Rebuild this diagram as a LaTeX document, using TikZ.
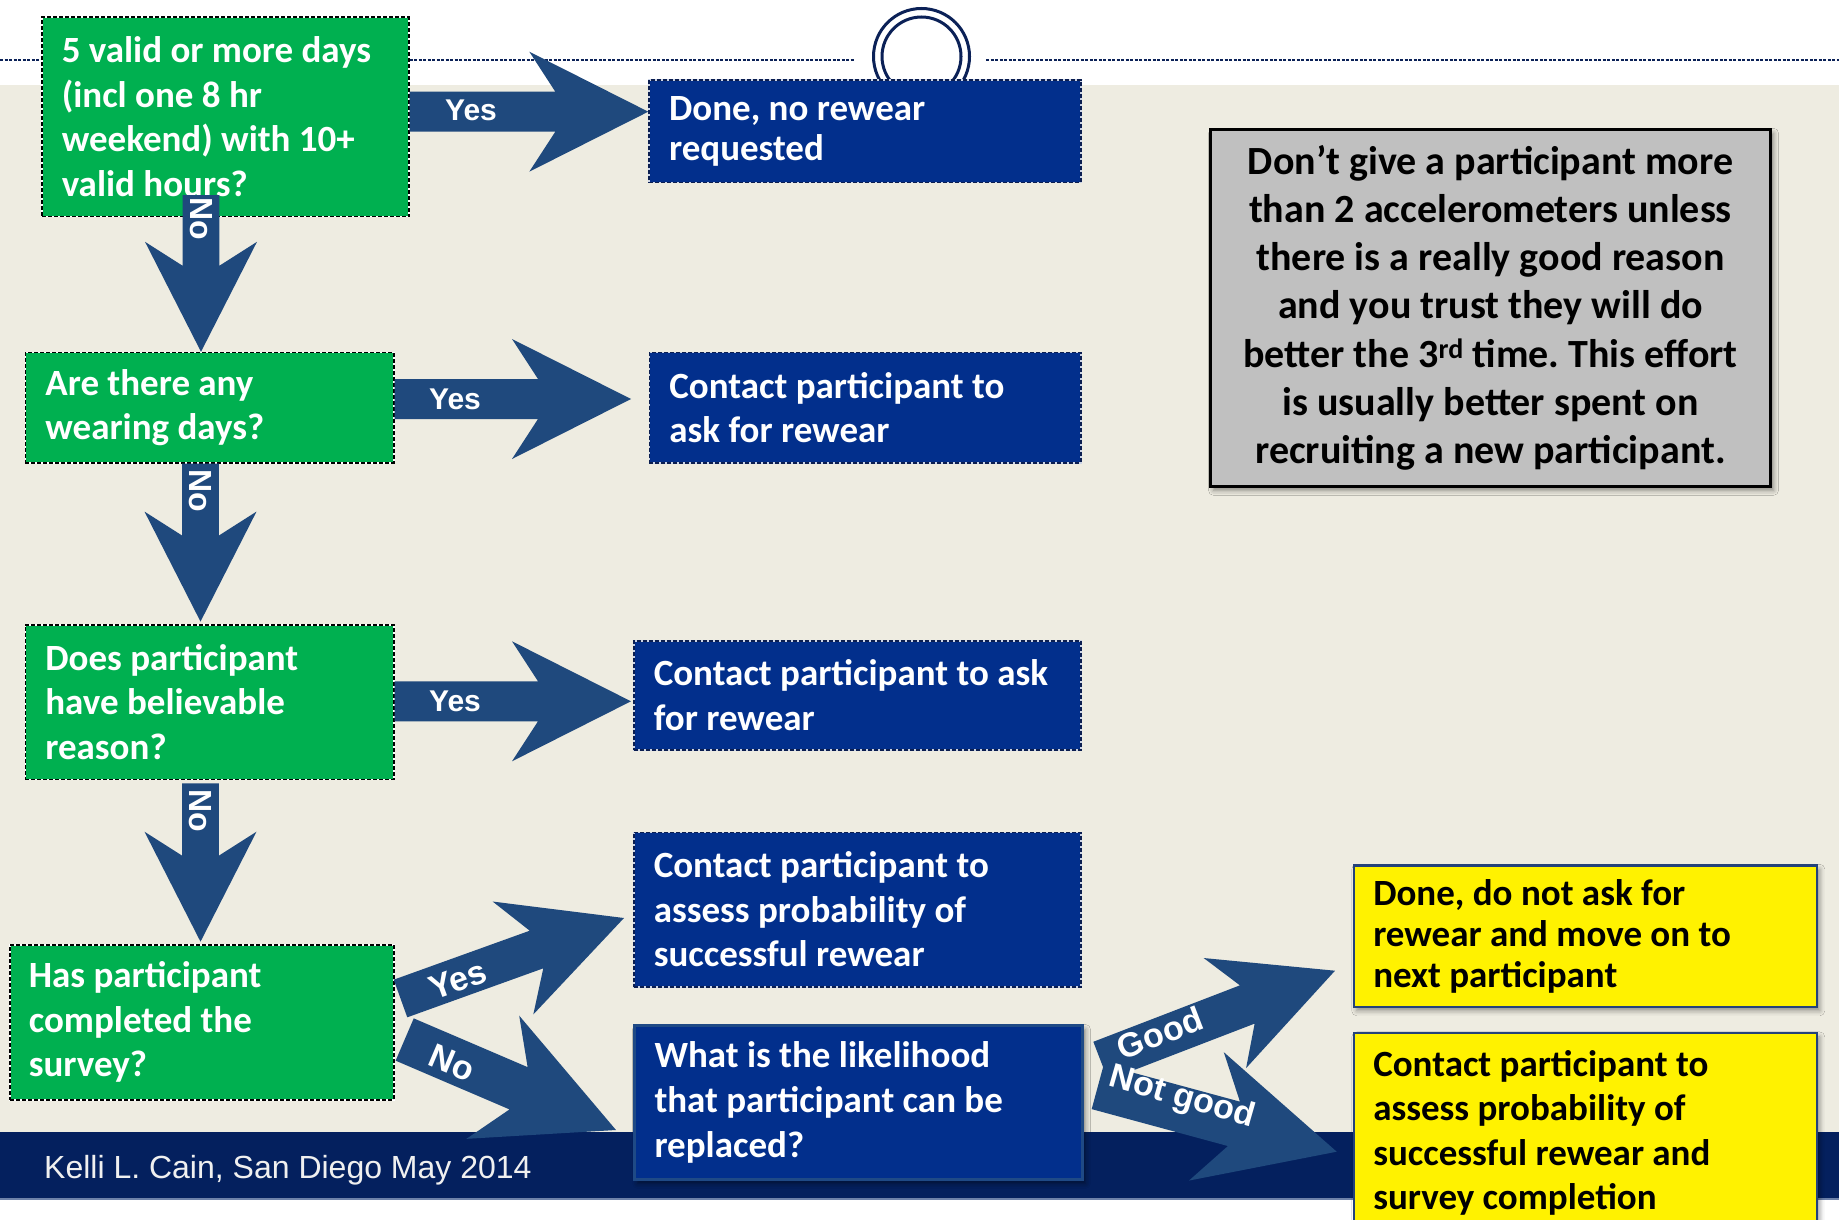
\documentclass[tikz,border=0pt]{standalone}
\usepackage{fontspec}
\setmainfont{Carlito}
\newfontfamily\labelfont{Liberation Sans}
\usetikzlibrary{calc,shadows.blur}

\definecolor{pagebeige}{HTML}{EEECE1}
\definecolor{barblue}{HTML}{04205E}
\definecolor{barline}{HTML}{6E82AA}
\definecolor{ringblue}{HTML}{0B2157}
\definecolor{boxgreen}{HTML}{00B050}
\definecolor{boxblue}{HTML}{022F8C}
\definecolor{dashnavy}{HTML}{0B1E50}
\definecolor{arrowfill}{HTML}{1F497D}
\definecolor{edgeblue}{HTML}{1F4A86}
\definecolor{notegray}{HTML}{C0C0C0}
\definecolor{yellowedge}{HTML}{24427A}

% Block arrow from tail (#1) to tip (#2):
% #3 half shaft width, #4 tip-to-barb length, #5 tip-to-notch length, #6 half head width
\newcommand\blockarrow[6]{%
  \coordinate (ba-w) at ($(#2)!#4!(#1)$);
  \coordinate (ba-j) at ($(#2)!#5!(#1)$);
  \fill[arrowfill] ($(#1)!#3!90:(#2)$) -- ($(ba-j)!#3!90:(#2)$) -- ($(ba-w)!#6!90:(#2)$) -- (#2)
    -- ($(ba-w)!#6!-90:(#2)$) -- ($(ba-j)!#3!-90:(#2)$) -- ($(#1)!#3!-90:(#2)$) -- cycle;
}

\frenchspacing
\begin{document}
\begin{tikzpicture}[x=1pt,y=-1pt,
  boxtext/.style={rectangle, anchor=north west, align=flush left, inner ysep=0pt, inner xsep=20pt,
    font=\fontsize{37}{44.6}\selectfont\bfseries},
  greenbox/.style={boxtext, fill=boxgreen, text=white, draw=white, line width=1.5pt,
    postaction={draw=black, line width=1.5pt, dash pattern=on 4pt off 2pt}},
  bluebox/.style={boxtext, fill=boxblue, text=white, draw=white!80!boxblue, line width=1.5pt,
    postaction={draw=dashnavy, line width=1.5pt, dash pattern=on 4pt off 2pt}},
  questionbox/.style={boxtext, fill=boxblue, text=white, draw=edgeblue, line width=3pt,
    blur shadow={shadow xshift=3pt, shadow yshift=-4pt, shadow blur radius=5pt, shadow opacity=45}},
  notebox/.style={boxtext, align=flush center, fill=notegray, text=black, draw=black, line width=3pt,
    font=\fontsize{40}{48.1}\selectfont\bfseries,
    blur shadow={shadow xshift=3pt, shadow yshift=-4pt, shadow blur radius=5pt, shadow opacity=45}},
  endbox/.style={boxtext, fill=yellow, text=black, draw=yellowedge, line width=2.5pt,
    blur shadow={shadow xshift=3pt, shadow yshift=-4pt, shadow blur radius=5pt, shadow opacity=40}},
  rlabel/.style={text=white, inner sep=0pt, font=\labelfont\bfseries\fontsize{30}{36}\selectfont},
  dlabel/.style={text=white, inner sep=0pt, font=\labelfont\bfseries\fontsize{32}{38}\selectfont},
  slabel/.style={text=white, inner sep=0pt, font=\labelfont\bfseries\fontsize{34}{40}\selectfont},
  topdash/.style={ringblue, line width=2.2pt, dash pattern=on 3pt off 1.5pt},
  ring/.style={ringblue, line width=3pt}
]
\clip (0,0) rectangle (1839,1220);

% page background, footer band and top rule
\fill[white] (0,0) rectangle (1839,1220);
\fill[pagebeige] (0,85) rectangle (1839,1132);
\fill[barblue] (0,1132) rectangle (1839,1198);
\fill[barline] (0,1198) rectangle (1839,1200);
\draw[topdash] (0,60) -- (854,60);
\draw[topdash] (986,60) -- (1839,60);
\draw[ring, fill=white] (921.5,56.5) circle[radius=48];
\draw[ring] (921.5,56.5) circle[radius=39.5];

% decision boxes
\node[greenbox, text width=327pt, minimum height=199.4pt] (g1) at (41,16.4)
  {5 valid or more days\\(incl one 8 hr\\weekend) with 10+\\valid hours?};
\node[greenbox, text width=328.4pt, minimum height=110.2pt] (g2) at (24.6,351.8)
  {Are there any\\wearing days?};
\node[greenbox, text width=328.4pt, minimum height=154.7pt] (g3) at (24.6,624)
  {Does participant\\have believable\\reason?};
\node[greenbox, inner xsep=18.6pt, text width=346.4pt, minimum height=155pt] (g4) at (9.4,944)
  {Has participant\\completed the\\survey?};

% outcome boxes
\node[bluebox, text width=391.7pt, minimum height=102.5pt, font=\fontsize{37}{40}\selectfont\bfseries] (b1) at (648.3,79.3)
  {Done, no rewear\\requested};
\node[bluebox, text width=391.4pt, minimum height=110.2pt] (b2) at (648.6,351.8)
  {Contact participant to\\ask for rewear};
\node[bluebox, text width=407pt, minimum height=109pt] (b3) at (633,640)
  {Contact participant to ask\\for rewear};
\node[bluebox, text width=407pt, minimum height=154.5pt] (b4) at (633,831.5)
  {Contact participant to\\assess probability of\\successful rewear};
\node[questionbox, text width=408pt, minimum height=154pt] (b5) at (633,1024)
  {What is the likelihood\\that participant can be\\replaced?};

% side note
\node[notebox, inner xsep=15pt, text width=530pt, minimum height=357pt] (note) at (1209,127.8)
  {Don’t give a participant more\\than 2 accelerometers unless\\there is a really good reason\\and you trust they will do\\better the 3\textsuperscript{rd} time. This effort\\is usually better spent on\\recruiting a new participant.};

% final outcomes
\node[endbox, inner xsep=19.5pt, text width=424pt, minimum height=141.5pt, font=\fontsize{37}{41}\selectfont\bfseries] (y1) at (1352.5,864)
  {Done, do not ask for\\rewear and move on to\\next participant};
\node[endbox, inner xsep=19.5pt, text width=424pt, minimum height=200pt] (y2) at (1352.5,1031.7)
  {Contact participant to\\assess probability of\\successful rewear and\\survey completion};

% arrow end points
\coordinate (r1s) at (g1.east |- 0,111.7);
\coordinate (r1e) at (b1.west |- r1s);
\coordinate (r2s) at (g2.east |- 0,399);
\coordinate (r2e) at ($(b2.west |- r2s)+(-17.6,0)$);
\coordinate (r3s) at (g3.east |- 0,701.3);
\coordinate (r3e) at ($(b3.west |- r3s)+(-2,0)$);
\coordinate (d1s) at (201,195);
\coordinate (d1e) at (d1s |- g2.north);
\coordinate (d2s) at (200.5,463.6);
\coordinate (d2e) at ($(d2s |- g3.north)+(0,-2.4)$);
\coordinate (d3s) at (200.5,783.4);
\coordinate (d3e) at ($(d3s |- g4.north)+(0,-2.3)$);
\coordinate (dys) at (400.5,998.5);
\coordinate (dye) at (624,918);
\coordinate (dns) at (404.7,1039.5);
\coordinate (dne) at (616,1130);
\coordinate (gds) at (1100.7,1060.9);
\coordinate (gde) at (1335,970.7);
\coordinate (ngs) at (1097.7,1086.9);
\coordinate (nge) at (1336.7,1151.7);

% block arrows
\blockarrow{r1s}{r1e}{20pt}{119pt}{93pt}{60pt}
\blockarrow{r2s}{r2e}{20pt}{119pt}{93pt}{60pt}
\blockarrow{r3s}{r3e}{20pt}{119pt}{93pt}{60pt}
\blockarrow{d1s}{d1e}{18.3pt}{110pt}{86pt}{56pt}
\blockarrow{d2s}{d2e}{18.3pt}{110pt}{86pt}{56pt}
\blockarrow{d3s}{d3e}{18.3pt}{110pt}{86pt}{56pt}
\blockarrow{dys}{dye}{20pt}{118pt}{93pt}{60pt}
\blockarrow{dns}{dne}{23pt}{134pt}{106pt}{67pt}
\blockarrow{gds}{gde}{20.5pt}{118pt}{94pt}{59pt}
\blockarrow{ngs}{nge}{23pt}{135pt}{106.5pt}{66.5pt}

% arrow labels
\node[rlabel] (l1) at (471,110) {Yes};
\node[rlabel] (l2) at (455,399) {Yes};
\node[rlabel] (l3) at (455,701) {Yes};
\node[dlabel, rotate=-90] (l4) at (201,219) {No};
\node[dlabel, rotate=-90] (l5) at (200.5,491) {No};
\node[dlabel, rotate=-90] (l6) at (200.5,811) {No};
\node[slabel, rotate=20] (l7) at (458,980) {Yes};
\node[slabel, rotate=-23] (l8) at (452,1063) {No};
\node[slabel, rotate=21] (l9) at (1160,1033) {Good};
\node[slabel, rotate=-16] (l10) at (1182,1098) {Not good};

% footer credit
\node[anchor=base west, inner sep=0pt, text=white!94!black, font=\labelfont\fontsize{32}{38}\selectfont] (credit) at (44,1178)
  {Kelli L. Cain, San Diego May 2014};
\end{tikzpicture}
\end{document}
